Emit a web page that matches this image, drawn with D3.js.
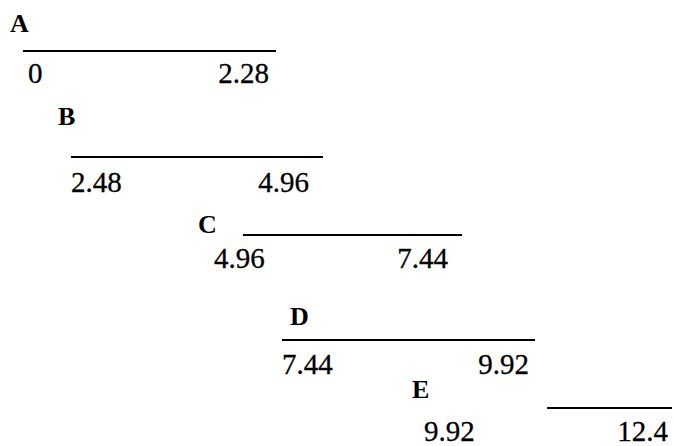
<!DOCTYPE html>
<html>
<head>
<meta charset="utf-8">
<script src="https://cdn.jsdelivr.net/npm/d3@7"></script>
<style>
  body { margin: 0; background: #fff; }
  svg text { font-family: "Liberation Serif", "Times New Roman", Times, serif; }
</style>
</head>
<body>
<div id="chart"></div>
<script>
(function () {
    // data
    const names = ["A", "B", "C", "D", "E"];
    const starts = [0, 2.48, 4.96, 7.44, 9.92];
    const ends = [2.28, 4.96, 7.44, 9.92, 12.4];

    // layout of each staggered row (pixels)
    const lineLeft = [23, 71, 243, 282, 547];
    const lineRight = [276, 323, 462, 535, 672];
    const lineY = [51, 157, 235, 340, 408];
    const nameX = [10, 58, 198, 290, 412];
    const nameY = [32, 125, 233, 325, 398];
    const tickY = [83, 192, 268, 374, 441];
    const startLabelX = [28, 71, 214, 282, 424];
    const endLabelX = [269, 309, 448, 529, 668];

    const width = 673, height = 446;

    const svg = d3.select("#chart").append("svg")
        .attr("width", width).attr("height", height);

    names.forEach((name, i) => {
        //one scale per row, each segment is its own little axis
        const x = d3.scaleLinear()
            .domain([starts[i], ends[i]])
            .range([lineLeft[i], lineRight[i]]);

        const g = svg.append("g");

        g.append("line")
            .attr("x1", x(starts[i]))
            .attr("x2", x(ends[i]))
            .attr("y1", lineY[i])
            .attr("y2", lineY[i])
            .attr("stroke", "black")
            .attr("stroke-width", 2);

        g.append("text")
            .attr("x", nameX[i])
            .attr("y", nameY[i])
            .attr("font-weight", "bold")
            .attr("font-size", 26)
            .text(name);

        g.append("text")
            .attr("x", startLabelX[i])
            .attr("y", tickY[i])
            .attr("font-size", 29)
            .attr("stroke", "black")
            .attr("stroke-width", 0.3)
            .text(String(starts[i]));

        g.append("text")
            .attr("x", endLabelX[i])
            .attr("y", tickY[i])
            .attr("text-anchor", "end")
            .attr("font-size", 29)
            .attr("stroke", "black")
            .attr("stroke-width", 0.3)
            .text(String(ends[i]));
    });
})();
</script>
</body>
</html>
